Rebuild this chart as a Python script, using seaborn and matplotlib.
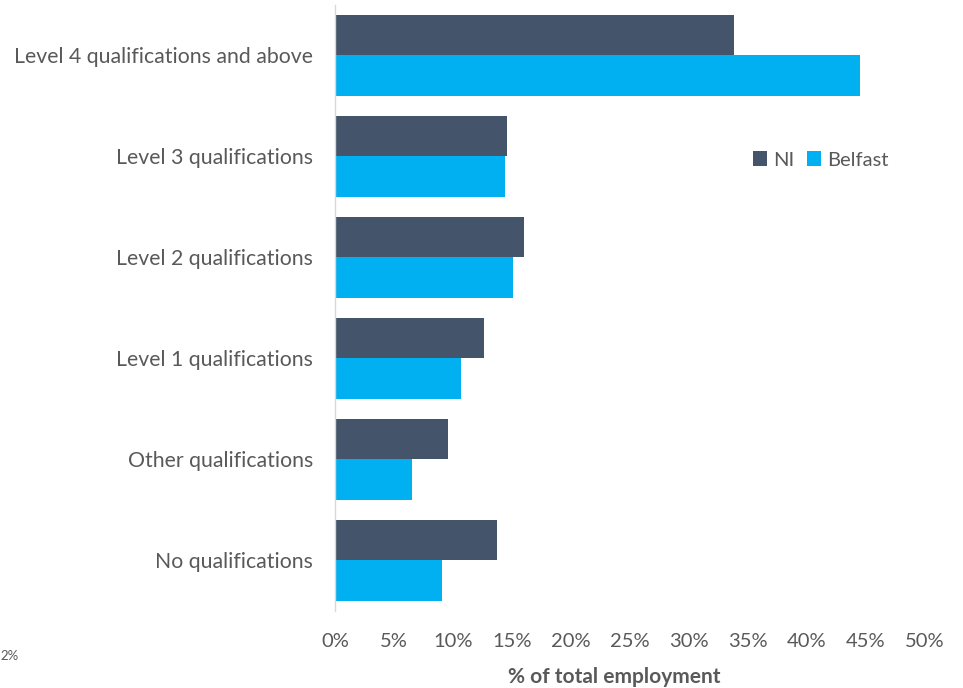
import pandas as pd
import matplotlib.pyplot as plt
import seaborn as sns

# Values (% of total employment)
categories = ["Level 4 qualifications and above", "Level 3 qualifications",
              "Level 2 qualifications", "Level 1 qualifications",
              "Other qualifications", "No qualifications"]
ni = [33.8, 14.6, 16.0, 12.6, 9.6, 13.7]
belfast = [44.5, 14.4, 15.1, 10.7, 6.5, 9.1]
xticks = [0, 5, 10, 15, 20, 25, 30, 35, 40, 45, 50]

df = pd.DataFrame({
    "Qualification": categories * 2,
    "Value": ni + belfast,
    "Area": ["NI"] * len(ni) + ["Belfast"] * len(belfast),
})

sns.set_style("white")
plt.rcParams["font.family"] = ["Lato", "DejaVu Sans"]
grey = "#595959"

fig = plt.figure(figsize=(9.63, 6.88), dpi=100)
ax = fig.add_axes([0.348, 0.112, 0.6125, 0.881])

sns.barplot(data=df, y="Qualification", x="Value", hue="Area", order=categories,
            palette={"NI": "#44546A", "Belfast": "#00B0F0"}, width=0.8,
            orient="h", ax=ax, saturation=1, linewidth=0)

ax.set_xlim(0, 50)
ax.set_xticks(xticks)
ax.set_xticklabels([f"{t}%" for t in xticks], fontsize=14.5, color=grey)
ax.tick_params(axis="y", labelsize=15.3, labelcolor=grey, length=0, pad=16)
ax.tick_params(axis="x", length=0, pad=16)
ax.set_ylabel("")
ax.set_xlabel("% of total employment", fontsize=15, fontweight="bold", color=grey)
ax.xaxis.set_label_coords(0.473, -0.109)
ax.xaxis.label.set_va("center")

for s in ["top", "right", "bottom"]:
    ax.spines[s].set_visible(False)
ax.spines["left"].set_color("#d9d9d9")
ax.spines["left"].set_linewidth(1)

leg = ax.legend(loc="center left", bbox_to_anchor=(0.678, 0.744), ncol=2, frameon=False,
                fontsize=14.5, handlelength=0.7, handleheight=0.7, handletextpad=0.3,
                columnspacing=0.6)
for t in leg.get_texts():
    t.set_color(grey)

fig.text(0.0, 0.047, "2%", fontsize=9.5, color=grey, ha="left", va="center")

fig.savefig("out.png", dpi=100)
